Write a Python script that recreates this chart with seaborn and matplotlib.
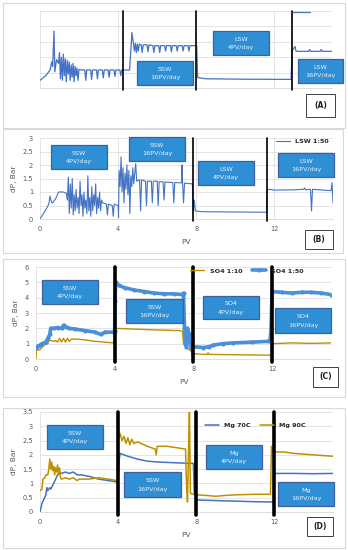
import matplotlib
matplotlib.use("Agg")
import matplotlib.pyplot as plt
from matplotlib.patches import Rectangle
import numpy as np
import pandas as pd
import seaborn as sns

sns.set_theme(style="whitegrid")
plt.rcParams["font.family"] = ["DejaVu Sans"]

W, H = 348, 550

BLUE = "#4472C4"
GOLD = "#BF9000"
LBLUE = "#4A90D9"
BOXFILL = "#2F8FD5"
BOXEDGE = "#3F5FA0"
TXT = "#595959"

# ---- panel A (no readable axis) ----
a_pv = [0, 0.3, 0.52, 0.6, 0.65, 0.72, 0.76, 0.85, 0.95, 1.0, 1.05, 1.1, 1.15, 1.2, 1.25, 1.3,
        1.35, 1.4, 1.45, 1.5, 1.55, 1.6, 1.65, 1.7, 1.75, 1.8, 1.85, 1.9, 1.95, 2.0, 2.05, 2.1,
        2.3, 2.35, 2.4, 2.6, 2.65, 2.7, 2.9, 2.95, 3.0, 3.2, 3.25, 3.3, 3.5, 3.55, 3.6, 3.8,
        3.85, 3.9, 4.1, 4.15, 4.2, 4.6, 4.7, 4.72, 4.8, 4.85, 4.9, 4.95, 5.0, 5.05, 5.1, 5.2,
        5.25, 5.3, 5.5, 5.55, 5.6, 5.8, 5.85, 5.9, 6.1, 6.15, 6.2, 6.4, 6.45, 6.5, 6.7, 6.75,
        6.8, 7.0, 7.05, 7.1, 7.3, 7.35, 7.4, 7.6, 7.65, 7.7, 8.05, 8.1, 8.5, 10.5, 12.9, 12.95,
        13.1, 13.15, 13.3, 13.8, 13.85, 13.9, 14.4, 14.45, 14.5, 15.0]
a_dp = [0.5, 0.8, 1.17, 1.7, 1.4, 3.7, 1.05, 1.85, 1.6, 2.3, 0.6, 2.0, 0.5, 2.2, 0.8, 1.9,
        0.4, 1.8, 0.9, 1.7, 0.5, 1.5, 0.7, 1.6, 0.4, 1.4, 0.8, 1.3, 0.5, 1.2, 1.2, 1.17,
        1.17, 0.5, 1.17, 1.17, 0.55, 1.17, 1.17, 0.6, 1.17, 1.17, 0.65, 1.17, 1.17, 0.7, 1.17, 1.17,
        0.75, 1.17, 1.17, 0.8, 1.17, 1.17, 3.1, 3.6, 2.9, 2.4, 2.9, 2.3, 2.85, 2.4, 2.85, 2.8,
        2.3, 2.8, 2.8, 2.35, 2.8, 2.75, 2.3, 2.75, 2.75, 2.3, 2.75, 2.75, 2.4, 2.75, 2.75, 2.35,
        2.75, 2.75, 2.4, 2.75, 2.75, 2.4, 2.75, 2.75, 2.4, 2.75, 2.75, 0.68, 0.6, 0.57, 0.56, 2.4,
        2.7, 2.4, 2.38, 2.38, 2.5, 2.38, 2.38, 2.5, 2.38, 2.38]

# ---- panel B: LSW 1:50 ----
b_pv = [0, 0.3, 0.45, 0.51, 0.6, 0.65, 0.8, 0.95, 1.2, 1.35, 1.4,
        1.45, 1.5, 1.55, 1.6, 1.65, 1.7, 1.75, 1.8, 1.85, 1.9, 1.95, 2.0, 2.05, 2.1, 2.15, 2.2,
        2.25, 2.3, 2.35, 2.4, 2.45, 2.5, 2.55, 2.6, 2.65, 2.7, 2.75, 2.8, 2.85, 2.9, 2.95, 3.0,
        3.05, 3.1, 3.15, 3.2, 3.4, 3.45, 3.5, 3.7, 3.75, 3.8, 4.0, 4.02,
        4.05, 4.1, 4.15, 4.2, 4.25, 4.3, 4.35, 4.4, 4.45, 4.5, 4.55, 4.6, 4.65, 4.7, 4.75, 4.8,
        4.9, 4.95, 5.1, 5.15, 5.2, 5.4, 5.45, 5.5, 5.7, 5.75, 5.8, 6.0, 6.05, 6.1, 6.3, 6.35,
        6.4, 6.8, 6.85, 6.9, 7.25, 7.27, 7.3, 7.35, 7.4, 7.8,
        7.85, 7.9, 7.95, 8.3, 10.0, 11.6,
        11.62, 11.7, 12.0, 13.0, 13.5, 13.55, 13.6, 13.85, 13.9, 13.95, 14.5, 14.9, 14.95, 15.0, 15.05]
b_dp = [0, 0.35, 0.55, 0.85, 0.6, 0.6, 0.75, 1.0, 1.0, 0.95, 0.7,
        1.55, 0.2, 1.3, 0.4, 1.5, 0.15, 0.9, 0.3, 1.1, 0.4, 0.8, 0.2, 1.4, 0.5, 0.9, 0.1,
        1.0, 0.4, 0.7, 0.2, 1.6, 0.3, 0.8, 0.1, 1.2, 0.3, 0.9, 0.5, 1.3, 0.2, 0.8, 0.4,
        1.0, 0.3, 0.7, 0.6, 0.55, 0.15, 0.55, 0.5, 0.1, 0.55, 0.5, 0.05,
        1.8, 1.2, 2.3, 1.0, 1.9, 0.6, 1.7, 1.1, 2.0, 0.9, 1.8, 0.2, 1.6, 1.2, 1.9, 1.3,
        2.05, 1.4, 1.45, 0.3, 1.45, 1.4, 0.5, 1.4, 1.4, 0.6, 1.4, 1.4, 0.5, 1.38, 1.38, 0.7,
        1.37, 1.35, 0.6, 1.35, 1.34, 2.0, 1.33, 0.6, 1.33, 1.3,
        0.3, 0.7, 0.3, 0.27, 0.26, 0.25,
        1.05, 1.1, 1.07, 1.08, 1.1, 1.15, 1.08, 1.1, 0.3, 1.1, 1.07, 1.05, 1.35, 0.6, 1.05]

# ---- panel C: SO4 ----
c10_pv = [0, 0.02, 0.2, 0.4, 0.6, 0.65, 0.8, 0.9, 1.0, 1.1, 1.2, 1.3, 1.4, 1.5, 1.6, 1.7,
          1.8, 2.0, 2.5, 3.0, 3.5, 3.95, 4.0, 5.0, 6.0, 7.3, 7.45, 7.5, 7.6, 7.7, 7.9, 8.0,
          8.05, 8.5, 8.7, 8.75, 8.8, 10.0, 11.9, 12.0, 12.05, 13.0, 14.0, 15.0]
c10_dp = [0, 0.6, 0.6, 0.9, 1.0, 1.2, 1.2, 1.15, 1.2, 1.1, 1.35, 1.1, 1.35, 1.1, 1.35, 1.15,
          1.3, 1.3, 1.25, 1.15, 1.1, 1.05, 2.0, 1.95, 1.9, 1.85, 1.8, 1.0, 0.9, 0.7, 0.5, 0.0,
          0.35, 0.3, 0.3, 0.4, 0.3, 0.28, 0.25, 0.0, 1.0, 1.05, 1.02, 1.05]
c50_pv = [0, 0.1, 0.2, 0.3, 0.5, 0.6, 0.7, 0.75, 0.9, 1.1, 1.3, 1.4, 1.5, 1.7, 2.0, 2.5,
          3.0, 3.3, 3.5, 3.9, 4.0, 4.02, 4.05, 4.2, 4.5, 5.0, 5.5, 6.0, 6.5, 7.0, 7.45, 7.5,
          7.55, 7.6, 7.65, 7.7, 7.8, 7.85, 7.9, 8.0, 8.5, 8.8, 9.0, 9.5, 10.0, 11.0, 11.8,
          11.9, 11.95, 12.0, 12.5, 13.0, 13.5, 14.0, 14.5, 15.0]
c50_dp = [0.7, 0.85, 0.9, 1.0, 1.1, 1.35, 1.6, 2.0, 2.0, 2.05, 2.0, 2.2, 2.1, 2.0, 1.95, 1.85,
          1.75, 1.6, 1.75, 1.75, 1.8, 3.8, 5.0, 4.8, 4.65, 4.5, 4.4, 4.3, 4.25, 4.25, 4.2, 4.3,
          2.0, 1.0, 0.8, 2.0, 1.6, 1.0, 0.7, 0.8, 0.75, 0.8, 0.9, 1.0, 1.05, 1.1, 1.15,
          1.2, 2.0, 4.4, 4.35, 4.3, 4.35, 4.35, 4.3, 4.2]

# ---- panel D: Mg ----
d70_pv = [0, 0.1, 0.3, 0.35, 0.4, 0.5, 0.55, 0.7, 0.8, 0.9, 1.0, 1.1, 1.3, 1.5, 1.7, 1.9,
          2.1, 2.5, 3.0, 3.5, 3.95, 4.0, 4.05, 4.1, 4.5, 5.0, 5.5, 6.0, 7.0, 7.85, 7.9, 7.95,
          8.0, 8.1, 9.0, 10.0, 11.0, 11.95, 12.0, 13.0, 14.0, 15.0]
d70_dp = [0, 0.3, 0.6, 0.85, 0.75, 0.85, 0.8, 1.0, 1.15, 1.3, 1.4, 1.35, 1.4, 1.35, 1.4, 1.3,
          1.3, 1.25, 1.15, 1.1, 1.05, 1.1, 1.8, 2.05, 1.95, 1.85, 1.78, 1.75, 1.72, 1.7, 0.6, 2.0,
          0.45, 0.42, 0.4, 0.38, 0.36, 0.35, 1.35, 1.35, 1.34, 1.35]
d90_pv = [0, 0.1, 0.15, 0.25, 0.3, 0.4, 0.45, 0.5, 0.55, 0.6, 0.65, 0.7, 0.75, 0.8, 0.85,
          0.9, 0.95, 1.0, 1.05, 1.1, 1.3, 1.5, 1.7, 1.9, 2.0, 2.5, 3.0, 3.5, 3.95, 4.0, 4.05,
          4.1, 4.2, 4.3, 4.4, 4.5, 4.6, 4.7, 4.8, 5.0, 5.5, 5.9, 5.95, 6.0, 6.5, 7.0, 7.45,
          7.5, 7.55, 7.6, 7.65, 7.7, 8.0, 8.5, 9.0, 9.5, 10.0, 11.0, 11.8, 11.85, 11.9, 12.0,
          12.5, 13.0, 14.0, 15.0]
d90_dp = [0.75, 0.8, 1.15, 1.2, 1.3, 1.3, 1.5, 1.85, 1.5, 1.75, 1.45, 1.6, 1.3, 1.55, 1.4,
          1.65, 1.3, 1.55, 1.2, 1.15, 1.2, 1.15, 1.2, 1.1, 1.15, 1.15, 1.2, 1.15, 1.1, 3.2, 2.6,
          2.75, 2.5, 2.65, 2.4, 2.6, 2.35, 2.55, 2.4, 2.45, 2.3, 2.2, 2.0, 2.3, 2.3, 2.25, 2.2,
          1.0, 0.35, 2.0, 3.5, 0.65, 0.6, 0.58, 0.55, 0.58, 0.6, 0.62, 0.62, 2.3, 2.15, 2.1,
          2.1, 2.05, 2.0, 1.95]

X_TICKS = [0, 4, 8, 12]


def px_axes(fig, left, top, right, bottom):
    return fig.add_axes([left / W, 1 - bottom / H, (right - left) / W, (bottom - top) / H])


def frame(fig, x0, y0, x1, y1, ec="#D9D9D9", fc="none", lw=0.8):
    fig.patches.append(Rectangle((x0 / W, 1 - y1 / H), (x1 - x0) / W, (y1 - y0) / H,
                                 transform=fig.transFigure, fc=fc, ec=ec, lw=lw, zorder=0))


def tag(fig, x0, y0, x1, y1, line1, line2):
    fig.patches.append(Rectangle((x0 / W, 1 - y1 / H), (x1 - x0) / W, (y1 - y0) / H,
                                 transform=fig.transFigure, fc=BOXFILL, ec=BOXEDGE, lw=0.9,
                                 zorder=5))
    cx = (x0 + x1) / 2 / W
    fig.text(cx, 1 - (y0 + (y1 - y0) * 0.34) / H, line1, ha="center", va="center",
             fontsize=4.6, color="#EAF2FA", zorder=6)
    fig.text(cx, 1 - (y0 + (y1 - y0) * 0.7) / H, line2, ha="center", va="center",
             fontsize=4.6, color="#EAF2FA", zorder=6)


def label_box(fig, x0, y0, x1, y1, s):
    fig.patches.append(Rectangle((x0 / W, 1 - y1 / H), (x1 - x0) / W, (y1 - y0) / H,
                                 transform=fig.transFigure, fc="white", ec="#404040", lw=0.7,
                                 zorder=5))
    fig.text((x0 + x1) / 2 / W, 1 - (y0 + y1) / 2 / H, s, ha="center", va="center",
             fontsize=5.5, fontweight="bold", color="#202020", zorder=6)


def style_axes(ax, ymax, ystep, show_labels=True):
    ax.set_facecolor("none")
    ax.set_xlim(0, 15)
    ax.set_ylim(0, ymax)
    ax.set_xticks(X_TICKS)
    ax.set_yticks(np.arange(0, ymax + 1e-9, ystep))
    ax.grid(True, color="#D9D9D9", lw=0.5)
    for s in ["top", "right", "left"]:
        ax.spines[s].set_visible(False)
    ax.spines["bottom"].set_color("#D9D9D9")
    ax.spines["bottom"].set_linewidth(0.6)
    ax.tick_params(axis="both", length=0, labelsize=4.8, colors=TXT)
    ax.tick_params(axis="x", pad=5)
    ax.tick_params(axis="y", pad=5)
    if show_labels:
        ax.yaxis.set_major_formatter(matplotlib.ticker.FuncFormatter(lambda v, p: f"{v:g}"))
        ax.set_xlabel("PV", fontsize=5.3, color=TXT, labelpad=5)
        ax.set_ylabel("dP, Bar", fontsize=5.3, color=TXT, labelpad=4)
    else:
        ax.set_xticklabels([])
        ax.set_yticklabels([])
        ax.set_xlabel("")
        ax.set_ylabel("")


def vlines(ax, xs, lw):
    for x in xs:
        ax.axvline(x, ymin=-0.03, ymax=1.0, color="black", lw=lw, clip_on=False, zorder=4)


fig = plt.figure(figsize=(W / 100, H / 100), dpi=100)
fig.patch.set_facecolor("white")

# panel outlines
frame(fig, 3, 3, 345, 128)
frame(fig, 3, 129, 343, 253)
frame(fig, 3, 259, 345, 397)
frame(fig, 3, 408, 345, 548)

# ---- A ----
axA = px_axes(fig, 40, 11, 332, 88)
sns.lineplot(x=a_pv, y=a_dp, ax=axA, estimator=None, sort=False, color=BLUE, lw=0.9)
axA.plot([13.0, 13.85], [4.95, 4.95], color=BLUE, lw=0.9)
style_axes(axA, 5, 1, show_labels=False)
vlines(axA, [4.28, 8.0, 12.95], 1.2)

# ---- B ----
axB = px_axes(fig, 40, 138, 333, 219)
sns.lineplot(x=b_pv, y=b_dp, ax=axB, estimator=None, sort=False, color=BLUE, lw=0.8,
             label="LSW 1:50")
style_axes(axB, 3, 0.5)
vlines(axB, [7.85, 11.6], 1.2)
axB.legend(loc="upper right", bbox_to_anchor=(1.0, 1.04), frameon=False,
           handlelength=2.2, borderaxespad=0.2, prop={"weight": "bold", "size": 4.6})

# ---- C ----
axC = px_axes(fig, 36, 267, 331, 359)
sns.lineplot(x=c10_pv, y=c10_dp, ax=axC, estimator=None, sort=False, color=GOLD, lw=1.0,
             label="SO4 1:10")
sns.lineplot(x=c50_pv, y=c50_dp, ax=axC, estimator=None, sort=False, color=LBLUE, lw=2.6,
             marker="o", markersize=3, markeredgewidth=0, label="SO4 1:50")
style_axes(axC, 6, 1)
vlines(axC, [4, 8, 12], 2.6)
axC.legend(loc="upper right", bbox_to_anchor=(0.92, 1.03), frameon=False, ncol=2,
           handlelength=2.2, columnspacing=1.5, borderaxespad=0.2,
           prop={"weight": "bold", "size": 4.6})

# ---- D ----
axD = px_axes(fig, 40, 412, 333, 512)
sns.lineplot(x=d70_pv, y=d70_dp, ax=axD, estimator=None, sort=False, color=BLUE, lw=1.1,
             label="Mg 70C")
sns.lineplot(x=d90_pv, y=d90_dp, ax=axD, estimator=None, sort=False, color=GOLD, lw=1.1,
             label="Mg 90C")
style_axes(axD, 3.5, 0.5)
vlines(axD, [4, 8, 12], 2.6)
axD.legend(loc="upper right", bbox_to_anchor=(0.92, 0.93), frameon=False, ncol=2,
           handlelength=2.2, columnspacing=1.5, borderaxespad=0.2,
           prop={"weight": "bold", "size": 4.6})

# condition boxes
tag(fig, 137, 61, 193, 85, "SSW", "16PV/day")
tag(fig, 213, 31, 269, 55, "LSW", "4PV/day")
tag(fig, 298, 59, 343, 83, "LSW", "16PV/day")

tag(fig, 51, 145, 107, 169, "SSW", "4PV/day")
tag(fig, 129, 137, 185, 161, "SSW", "16PV/day")
tag(fig, 198, 161, 254, 185, "LSW", "4PV/day")
tag(fig, 278, 153, 334, 177, "LSW", "16PV/day")

tag(fig, 42, 280, 98, 304, "SSW", "4PV/day")
tag(fig, 126, 299, 183, 323, "SSW", "16PV/day")
tag(fig, 203, 296, 259, 319, "SO4", "4PV/day")
tag(fig, 275, 308, 331, 333, "SO4", "16PV/day")

tag(fig, 47, 425, 103, 449, "SSW", "4PV/day")
tag(fig, 124, 472, 181, 497, "SSW", "16PV/day")
tag(fig, 206, 445, 262, 469, "Mg", "4PV/day")
tag(fig, 278, 482, 334, 506, "Mg", "16PV/day")

label_box(fig, 306, 94, 335, 117, "(A)")
label_box(fig, 305, 230, 333, 249, "(B)")
label_box(fig, 313, 367, 338, 387, "(C)")
label_box(fig, 307, 517, 333, 536, "(D)")

fig.savefig("out.png", dpi=100)
plt.close(fig)
